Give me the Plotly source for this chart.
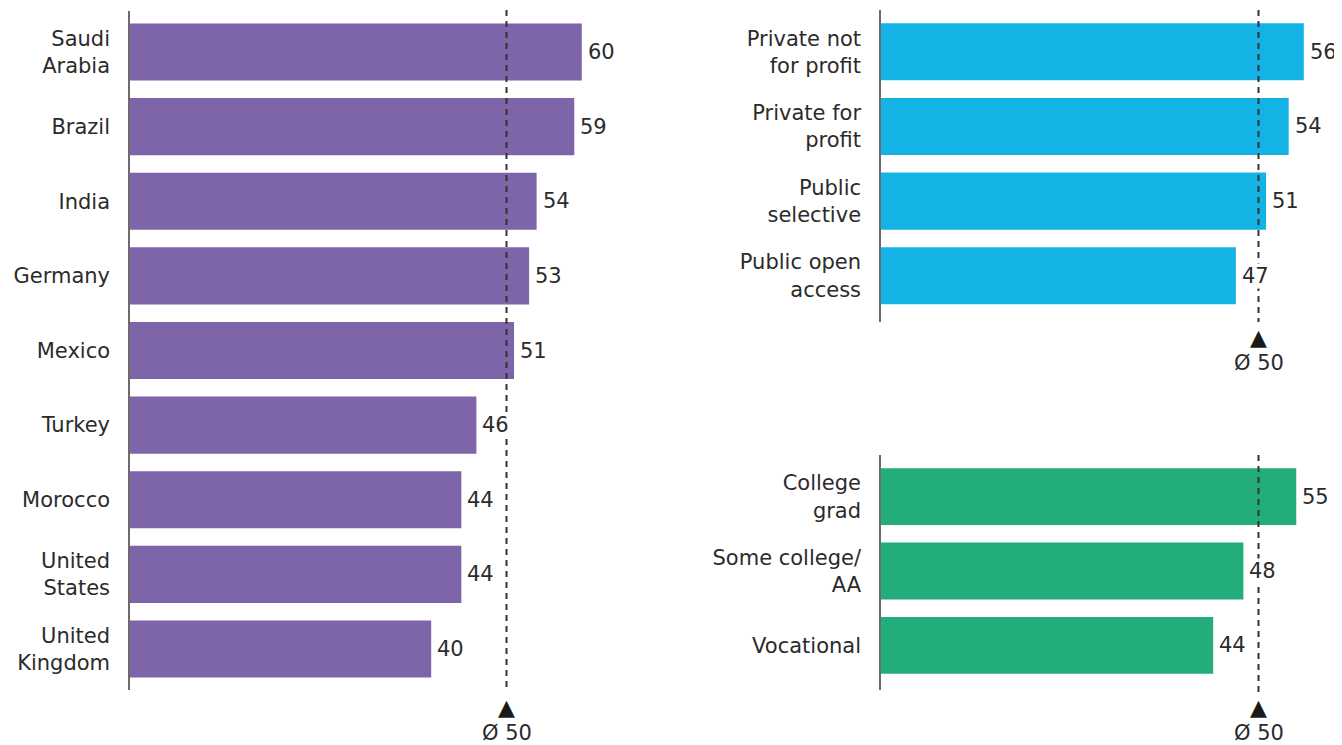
import plotly.graph_objects as go

W, H = 1342, 745
OFF = 8  # page body margin
WF, HF = W - OFF, H - OFF

countries = ["Saudi<br>Arabia", "Brazil", "India", "Germany", "Mexico", "Turkey",
             "Morocco", "United<br>States", "United<br>Kingdom"]
country_vals = [60, 59, 54, 53, 51, 46, 44, 44, 40]

institutions = ["Private not<br>for profit", "Private for<br>profit", "Public<br>selective", "Public open<br>access"]
institution_vals = [56, 54, 51, 47]

education = ["College<br>grad", "Some college/<br>AA", "Vocational"]
education_vals = [55, 48, 44]

average = 50
avg_label = "Ø 50"

PURPLE = "#7E65A9"
BLUE = "#14B3E6"
GREEN = "#22AD7A"
TEXT = "#2b2b2b"
FONT = "DejaVu Sans, Liberation Sans, Arial, sans-serif"
FS = 21


def px_x(p):
    return (p - OFF) / WF


def px_y(p):
    return (H - p) / HF


fig = go.Figure()

panels = [
    (countries, country_vals, PURPLE, "x", "y"),
    (institutions, institution_vals, BLUE, "x2", "y2"),
    (education, education_vals, GREEN, "x3", "y3"),
]

for cats, vals, col, xa, ya in panels:
    fig.add_trace(go.Bar(
        x=vals, y=cats, orientation="h", marker=dict(color=col, line=dict(width=0)),
        width=0.765, xaxis=xa, yaxis=ya, hoverinfo="skip", showlegend=False,
    ))

axis_common_x = dict(showgrid=False, zeroline=False, showline=False, showticklabels=False, ticks="")
axis_common_y = dict(type="category", showgrid=False, zeroline=False, showline=True,
                     linecolor="#6b6b6b", linewidth=1.5, ticks="outside", ticklen=14,
                     tickcolor="rgba(0,0,0,0)", tickfont=dict(family=FONT, size=FS, color=TEXT))

fig.update_layout(
    width=WF, height=HF, margin=dict(l=0, r=0, t=0, b=0),
    paper_bgcolor="white", plot_bgcolor="white",
    font=dict(family=FONT, color=TEXT),
    xaxis=dict(domain=[px_x(130), px_x(130 + 7.53 * 70)], range=[0, 70], anchor="y", **axis_common_x),
    yaxis=dict(domain=[px_y(690), px_y(11)], range=[8.55, -0.55], anchor="x", **axis_common_y),
    xaxis2=dict(domain=[px_x(881), px_x(881 + 7.55 * 60)], range=[0, 60], anchor="y2", **axis_common_x),
    yaxis2=dict(domain=[px_y(322), px_y(10)], range=[3.62, -0.56], anchor="x2", **axis_common_y),
    xaxis3=dict(domain=[px_x(881), px_x(881 + 7.55 * 60)], range=[0, 60], anchor="y3", **axis_common_x),
    yaxis3=dict(domain=[px_y(690), px_y(455)], range=[2.6, -0.56], anchor="x3", **axis_common_y),
)

# average dashed lines, triangles and labels
avg_specs = [
    ("x", 10, 692, 707, 733),
    ("x2", 10, 322, 338, 363),
    ("x3", 455, 692, 707, 733),
]
for xr, ytop, ybot, ytri, ytxt in avg_specs:
    fig.add_shape(type="line", xref=xr, yref="paper", x0=average, x1=average,
                  y0=px_y(ytop), y1=px_y(ybot),
                  line=dict(color="#333333", width=2, dash="6px,5px"), layer="above")
    fig.add_annotation(xref=xr, yref="paper", x=average, y=px_y(ytri), text="▲",
                       showarrow=False, font=dict(family="DejaVu Sans", size=22, color="#1a1a1a"),
                       xanchor="center", yanchor="middle")
    fig.add_annotation(xref=xr, yref="paper", x=average, y=px_y(ytxt), text=avg_label,
                       showarrow=False, font=dict(family=FONT, size=FS, color=TEXT),
                       xanchor="center", yanchor="middle")

# value labels
for cats, vals, col, xa, ya in panels:
    for c, v in zip(cats, vals):
        fig.add_annotation(xref=xa, yref=ya, x=v, y=c, text=str(v), showarrow=False,
                           xanchor="left", yanchor="middle", xshift=5, borderpad=0,
                           font=dict(family=FONT, size=FS, color=TEXT),
                           bgcolor="white")

fig.write_html("out.html")
